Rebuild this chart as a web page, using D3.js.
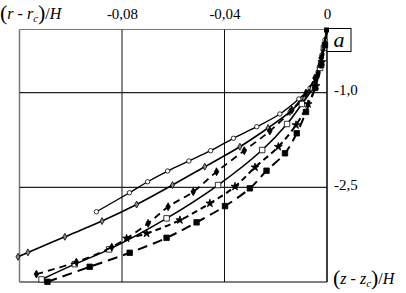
<!DOCTYPE html>
<html>
<head>
<meta charset="utf-8">
<script src="https://cdn.jsdelivr.net/npm/d3@7"></script>
<style>
  body { margin: 0; background: #fff; }
  svg { display: block; font-family: "Liberation Serif", "DejaVu Serif", serif; }
</style>
</head>
<body>
<div id="chart"></div>
<script>
// tick values and their labels (comma decimals as in the original)
var xTicks = [-0.08, -0.04, 0];
var xTickLabels = ["-0,08", "-0,04", "0"];
var yTicks = [-1.0, -2.5];
var yTickLabels = ["-1,0", "-2,5"];

// series, each point is [(r - rc)/H, (z - zc)/H]
var circles = [[-0.0900,-2.887],[-0.0771,-2.586],[-0.0700,-2.412],[-0.0622,-2.242],[-0.0539,-2.083],[-0.0454,-1.920],
  [-0.0365,-1.723],[-0.0274,-1.540],[-0.0184,-1.338],[-0.0110,-1.100],[-0.0066,-0.926],[-0.0035,-0.672],[-0.0020,-0.403],[-0.0008,-0.165],[0,0]];
var diamondsOpen = [[-0.1206,-3.601],[-0.1167,-3.531],[-0.1023,-3.284],[-0.0878,-3.035],[-0.0743,-2.773],[-0.0603,-2.464],
  [-0.0477,-2.174],[-0.0340,-1.857],[-0.0230,-1.560],[-0.0145,-1.306],[-0.0090,-1.085],[-0.0055,-0.878],[-0.0031,-0.609],[-0.0016,-0.323],[0,0]];
var squaresOpen = [[-0.1114,-3.959],[-0.0984,-3.717],[-0.0850,-3.483],[-0.0626,-2.992],[-0.0425,-2.464],[-0.0253,-1.909],
  [-0.0156,-1.497],[-0.0098,-1.180],[-0.0055,-0.926],[-0.0027,-0.609],[-0.0012,-0.292],[0,0]];
var diamondsFilled = [[-0.1134,-3.875],[-0.0978,-3.685],[-0.0840,-3.447],[-0.0698,-3.071],[-0.0620,-2.808],[-0.0522,-2.570],
  [-0.0431,-2.253],[-0.0323,-1.920],[-0.0223,-1.608],[-0.0137,-1.275],[-0.0082,-1.005],[-0.0047,-0.767],[-0.0023,-0.450],[0,0]];
var stars = [[-0.0782,-3.309],[-0.0704,-3.230],[-0.0574,-3.019],[-0.0457,-2.754],[-0.0359,-2.488],[-0.0281,-2.183],
  [-0.0190,-1.857],[-0.0121,-1.513],[-0.0074,-1.180],[-0.0043,-0.894],[-0.0020,-0.514],[0,0]];
var squaresFilled = [[-0.1091,-3.997],[-0.0926,-3.759],[-0.0770,-3.537],[-0.0626,-3.300],[-0.0509,-3.055],[-0.0398,-2.797],
  [-0.0301,-2.516],[-0.0236,-2.237],[-0.0164,-1.961],[-0.0118,-1.644],[-0.0082,-1.306],[-0.0047,-0.926],[-0.0023,-0.561],[-0.0008,-0.244],[0,0]];

var width = 406, height = 293;
var plotL = 19.5, plotR = 327, plotT = 29.5, plotB = 282;

var svg = d3.select("#chart").append("svg")
    .attr("width", width)
    .attr("height", height);

var x = d3.scaleLinear().domain([-0.12, 0]).range([plotL, plotR]);
var y = d3.scaleLinear().domain([0, -4]).range([plotT, plotB]);

// frame
svg.append("line").attr("x1", plotL).attr("x2", plotL).attr("y1", plotT).attr("y2", plotB)
    .attr("stroke", "#777").attr("stroke-width", 1.5);
svg.append("line").attr("x1", plotL).attr("x2", plotR).attr("y1", plotT).attr("y2", plotT)
    .attr("stroke", "#777").attr("stroke-width", 1.2);
svg.append("line").attr("x1", plotL).attr("x2", plotR).attr("y1", plotB).attr("y2", plotB)
    .attr("stroke", "#555").attr("stroke-width", 1.5);

// grid
svg.append("g").selectAll("line").data(xTicks.filter(function(d) { return d !== 0; }))
  .enter().append("line")
    .attr("x1", function(d) { return x(d); }).attr("x2", function(d) { return x(d); })
    .attr("y1", plotT).attr("y2", plotB)
    .attr("stroke", "#111").attr("stroke-width", 1);
svg.append("g").selectAll("line").data(yTicks)
  .enter().append("line")
    .attr("x1", plotL).attr("x2", plotR)
    .attr("y1", function(d) { return y(d); }).attr("y2", function(d) { return y(d); })
    .attr("stroke", "#222").attr("stroke-width", 1.2);

// zero line (right side)
svg.append("line").attr("x1", x(0)).attr("x2", x(0)).attr("y1", plotT).attr("y2", plotB)
    .attr("stroke", "#000").attr("stroke-width", 1.5);

// top axis labels
var xAxis = d3.axisTop(x).tickValues(xTicks).tickSize(0)
    .tickFormat(function(d, i) { return xTickLabels[i]; });
var gx = svg.append("g").attr("transform", "translate(0,19)").call(xAxis);
gx.select(".domain").remove();
gx.selectAll("text").attr("dy", 0).attr("y", 0).style("font-size", "15px")
    .style("font-family", "Liberation Serif, serif").attr("fill", "#000");

// right axis labels
var yAxis = d3.axisRight(y).tickValues(yTicks).tickSize(0)
    .tickFormat(function(d, i) { return yTickLabels[i]; });
var gy = svg.append("g").attr("transform", "translate(" + (plotR + 7) + ",0)").call(yAxis);
gy.select(".domain").remove();
gy.selectAll("text").attr("x", 0).attr("dy", "0.15em").style("font-size", "15px")
    .style("font-family", "Liberation Serif, serif").attr("fill", "#000");

// axis titles
function title(tx, ty, a) {
  var t = svg.append("text").attr("x", tx).attr("y", ty).style("font-size", "16px");
  t.append("tspan").text("(").style("font-size", "22px").attr("dy", 1);
  t.append("tspan").text(a).style("font-style", "italic").attr("dy", -1);
  t.append("tspan").text(" - ");
  t.append("tspan").text(a).style("font-style", "italic");
  t.append("tspan").text("c").style("font-style", "italic").style("font-size", "11px").attr("dy", 3);
  t.append("tspan").text(")").style("font-size", "22px").attr("dy", -2);
  t.append("tspan").text("/").attr("dy", -1);
  t.append("tspan").text("H").style("font-style", "italic");
}
title(0, 19, "r");
title(333, 284, "z");

// panel letter
svg.append("rect").attr("x", x(0)).attr("y", plotT - 1).attr("width", 24).attr("height", 23)
    .attr("fill", "#fff").attr("stroke", "#000").attr("stroke-width", 1);
svg.append("text").attr("x", x(0) + 12).attr("y", plotT + 17).attr("text-anchor", "middle")
    .style("font-size", "22px").style("font-style", "italic").text("a");

// curves
var line = d3.line()
    .x(function(d) { return x(d[0]); })
    .y(function(d) { return y(d[1]); })
    .curve(d3.curveCatmullRom);

var series = [
  { data: circles, dash: null, width: 1.4, symbol: "circle" },
  { data: diamondsOpen, dash: null, width: 1.6, symbol: "diamondOpen" },
  { data: squaresOpen, dash: null, width: 1.6, symbol: "squareOpen" },
  { data: diamondsFilled, dash: "7,5", width: 1.8, symbol: "diamond" },
  { data: stars, dash: "6,4", width: 2, symbol: "star" },
  { data: squaresFilled, dash: "10,6", width: 2, symbol: "square" }
];

series.forEach(function(s) {
  svg.append("path")
      .attr("d", line(s.data))
      .attr("fill", "none")
      .attr("stroke", "#000")
      .attr("stroke-width", s.width)
      .attr("stroke-dasharray", s.dash);

  var pts = s.data.slice(0, -1);
  var g = svg.append("g");
  if (s.symbol === "circle") {
    g.selectAll("circle").data(pts).enter().append("circle")
        .attr("cx", function(d) { return x(d[0]); })
        .attr("cy", function(d) { return y(d[1]); })
        .attr("r", 2.2).attr("fill", "#fff").attr("stroke", "#000").attr("stroke-width", 0.8);
  } else {
    var type = d3.symbolSquare, size = 30, fill = "#000", stroke = "#000";
    if (s.symbol === "squareOpen") { fill = "#fff"; }
    if (s.symbol === "diamondOpen") { type = d3.symbolDiamond; size = 14; fill = "#888"; }
    if (s.symbol === "diamond") { type = d3.symbolDiamond; size = 18; }
    if (s.symbol === "star") { type = d3.symbolStar; size = 20; }
    g.selectAll("path").data(pts).enter().append("path")
        .attr("d", d3.symbol().type(type).size(size))
        .attr("transform", function(d) { return "translate(" + x(d[0]) + "," + y(d[1]) + ")"; })
        .attr("fill", fill).attr("stroke", stroke).attr("stroke-width", 0.8);
  }
});

// small filled square at the origin
svg.append("rect").attr("x", x(0) - 3).attr("y", y(0) - 2).attr("width", 5).attr("height", 5).attr("fill", "#000");
</script>
</body>
</html>
